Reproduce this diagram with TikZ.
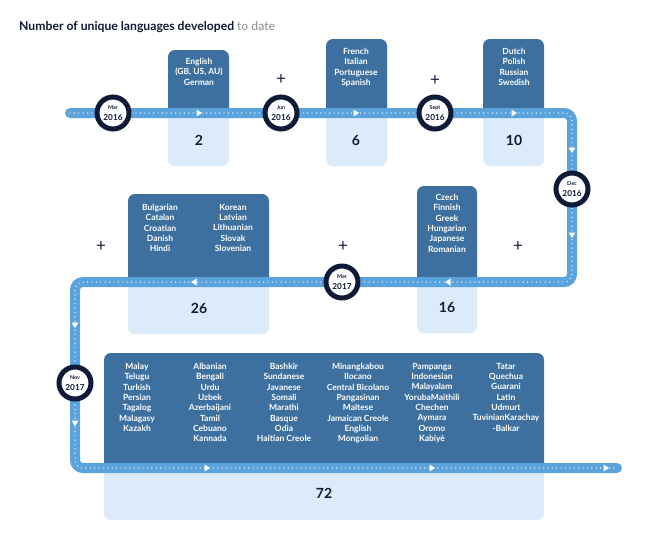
\documentclass[tikz,border=0pt]{standalone}
\usepackage{fontspec}
\setmainfont{Lato}
\definecolor{darkbox}{RGB}{61,112,158}
\definecolor{lightbox}{RGB}{220,235,249}
\definecolor{track}{RGB}{90,163,220}
\definecolor{navy}{RGB}{14,26,54}
\definecolor{titlegray}{RGB}{140,140,140}
\tikzset{
  langs/.style={text=white, align=center, inner sep=0pt, anchor=north, font=\fontsize{8.5}{10.3}\selectfont\bfseries},
  count/.style={text=navy, inner sep=0pt, font=\fontsize{14}{14}\selectfont\bfseries},
  datecirc/.style={circle, draw=navy, line width=5pt, fill=white, minimum size=32pt, inner sep=0pt, align=center, text=navy},
  plussign/.style={text=navy, inner sep=0pt, font=\fontsize{17}{17}\selectfont},
  trackline/.style={draw=track, line width=10pt, line cap=round, rounded corners=8pt},
  dotline/.style={draw=white, line width=1.4pt, line cap=round, dash pattern=on 0pt off 4.4pt, rounded corners=8pt},
}
\newcommand\tlbox[6]{% name, x1, x2, top, bary, bottom
  \fill[lightbox, rounded corners=7pt] (#2,#4) rectangle (#3,#6);
  \begin{scope}
    \clip ({#2-1},{#4-1}) rectangle ({#3+1},#5);
    \fill[darkbox, rounded corners=7pt] (#2,#4) rectangle (#3,#6);
  \end{scope}
  \coordinate (#1) at ({(#2+#3)/2},#5);
}
\newcommand\triR[2]{\fill[white] ({#1-2.5},{#2-3.5}) -- ({#1+3},#2) -- ({#1-2.5},{#2+3.5}) -- cycle;}
\newcommand\triL[2]{\fill[white] ({#1+2.5},{#2-3.5}) -- ({#1-3},#2) -- ({#1+2.5},{#2+3.5}) -- cycle;}
\newcommand\triD[2]{\fill[white] ({#1-3.5},{#2-2.5}) -- (#1,{#2+3}) -- ({#1+3.5},{#2-2.5}) -- cycle;}
\newcommand\dlabel[2]{{\fontsize{5.4}{5.8}\selectfont\bfseries #1}\\[-0.5pt]{\fontsize{8.2}{8.5}\selectfont\bfseries #2}}
\begin{document}
\begin{tikzpicture}[x=1pt, y=-1pt]
\useasboundingbox (0,0) rectangle (650,541);
% title
\node[anchor=base west, inner sep=0pt, text=navy, font=\fontsize{12.2}{13}\selectfont] (title) at (19,30)
  {\bfseries Number of unique languages developed \mdseries\textcolor{titlegray}{to date}};
% boxes
\tlbox{b1}{168}{229}{50}{113}{166}
\tlbox{b2}{326}{387}{39}{113}{166}
\tlbox{b3}{483}{544}{39}{113}{166}
\tlbox{b4}{128}{269}{194}{282}{334}
\tlbox{b5}{417}{477}{186}{282}{333}
\tlbox{b6}{104}{544}{353}{468}{520}
% track
\coordinate (p0) at (70,113);
\coordinate (p1) at (572,113);
\coordinate (p2) at (572,282);
\coordinate (p3) at (75,282);
\coordinate (p4) at (75,468);
\coordinate (p5) at (617,468);
\path[trackline] (p0) -- (p1) -- (p2) -- (p3) -- (p4) -- (p5);
\path[dotline] (p0) -- (p1) -- (p2) -- (p3) -- (p4) -- (p5);
% direction marks
\triR{199}{113} \triR{356}{113} \triR{514}{113}
\triD{572}{150} \triD{572}{235}
\triL{448}{282} \triL{194}{282}
\triD{75}{325} \triD{75}{423}
\triR{207}{468} \triR{432}{468} \triR{606}{468}
% date circles
\node[datecirc] (c1) at (113,113) {\dlabel{Mar}{2016}};
\node[datecirc] (c2) at (281,113) {\dlabel{Jun}{2016}};
\node[datecirc] (c3) at (435,113) {\dlabel{Sept}{2016}};
\node[datecirc] (c4) at (572,189) {\dlabel{Dec}{2016}};
\node[datecirc] (c5) at (342,282) {\dlabel{Mar}{2017}};
\node[datecirc] (c6) at (75,383) {\dlabel{Nov}{2017}};
% plus signs
\node[plussign] (s1) at (281,80) {+};
\node[plussign] (s2) at (435,81) {+};
\node[plussign] (s3) at (101,247) {+};
\node[plussign] (s4) at (343,247) {+};
\node[plussign] (s5) at (518,247) {+};
% language lists
\node[langs] (l1) at (199,58) {English\\(GB, US, AU)\\German};
\node[langs] (l2) at (356,48) {French\\Italian\\Portuguese\\Spanish};
\node[langs] (l3) at (514,48) {Dutch\\Polish\\Russian\\Swedish};
\node[langs] (l4a) at (160,204) {Bulgarian\\Catalan\\Croatian\\Danish\\Hindi};
\node[langs] (l4b) at (233,204) {Korean\\Latvian\\Lithuanian\\Slovak\\Slovenian};
\node[langs] (l5) at (447,194) {Czech\\Finnish\\Greek\\Hungarian\\Japanese\\Romanian};
\node[langs] (l6a) at (137,363) {Malay\\Telugu\\Turkish\\Persian\\Tagalog\\Malagasy\\Kazakh};
\node[langs] (l6b) at (210,363) {Albanian\\Bengali\\Urdu\\Uzbek\\Azerbaijani\\Tamil\\Cebuano\\Kannada};
\node[langs] (l6c) at (284,363) {Bashkir\\Sundanese\\Javanese\\Somali\\Marathi\\Basque\\Odia\\Haitian Creole};
\node[langs] (l6d) at (358,363) {Minangkabou\\Ilocano\\Central Bicolano\\Pangasinan\\Maltese\\Jamaican Creole\\English\\Mongolian};
\node[langs] (l6e) at (432,363) {Pampanga\\Indonesian\\Malayalam\\YorubaMaithili\\Chechen\\Aymara\\Oromo\\Kabiyè};
\node[langs] (l6f) at (506,363) {Tatar\\Quechua\\Guarani\\Latin\\Udmurt\\TuvinianKarachay\\-Balkar};
% counts
\node[count] (n1) at (199,140) {2};
\node[count] (n2) at (356,140) {6};
\node[count] (n3) at (514,140) {10};
\node[count] (n4) at (199,308) {26};
\node[count] (n5) at (447,307) {16};
\node[count] (n6) at (324,493) {72};
\end{tikzpicture}
\end{document}
